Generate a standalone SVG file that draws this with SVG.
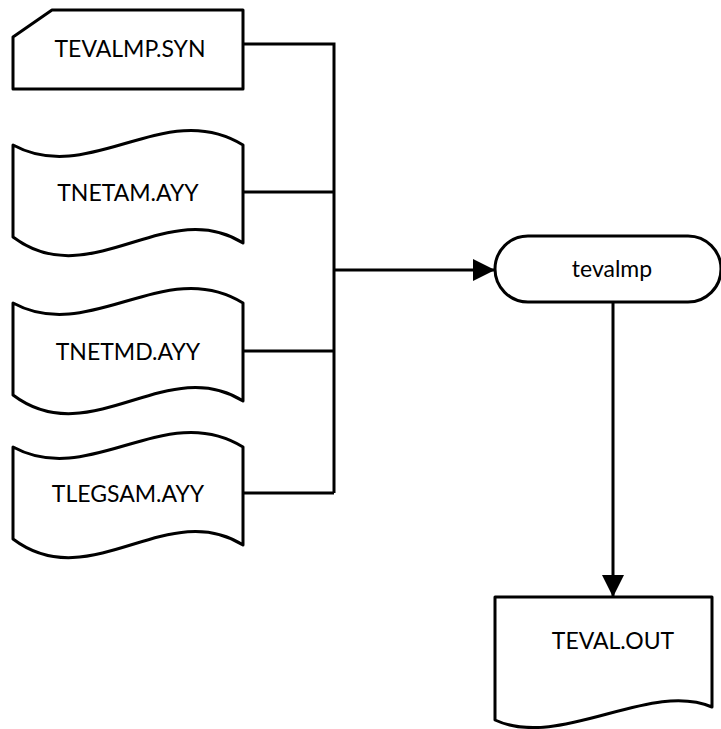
<svg xmlns="http://www.w3.org/2000/svg" width="721" height="729" viewBox="0 0 721 729">
<style>
.shape{fill:#fff;stroke:#000;stroke-width:3;stroke-linejoin:round}
.lbl{font-family:Lato,"Liberation Sans",sans-serif;font-size:23px;fill:#000;text-anchor:middle;dominant-baseline:central}
.conn{fill:none;stroke:#000;stroke-width:3}
</style>
<defs>
<marker id="arr" markerUnits="userSpaceOnUse" markerWidth="24" markerHeight="24" refX="22" refY="11" orient="auto">
<path d="M0,0 L22,11 L0,22 z" fill="#000"/>
</marker>
<path id="tape" d="M0,0 C77,42 152,-48 230,0 L230,98 C154,50 77,150 0,92 Z"/>
</defs>
<rect width="721" height="729" fill="#fff"/>
<g id="connectors">
<path class="conn" d="M243,44 H334 V493"/>
<path class="conn" d="M243,192 H334"/>
<path class="conn" d="M243,351 H334"/>
<path class="conn" d="M243,493 H334"/>
<path class="conn" d="M334,270 H495" marker-end="url(#arr)"/>
<path class="conn" d="M613,302 V597" marker-end="url(#arr)"/>
</g>
<g id="tevalmp_syn">
<path class="shape" d="M52,10 H243 V89 H13 V37 Z"/>
<text class="lbl" x="130" y="48">TEVALMP.SYN</text>
</g>
<g id="tnetam_ayy">
<use class="shape" href="#tape" transform="translate(13,145)"/>
<text class="lbl" x="128" y="192">TNETAM.AYY</text>
</g>
<g id="tnetmd_ayy">
<use class="shape" href="#tape" transform="translate(13,303)"/>
<text class="lbl" x="128" y="351">TNETMD.AYY</text>
</g>
<g id="tlegsam_ayy">
<use class="shape" href="#tape" transform="translate(13,447)"/>
<text class="lbl" x="128" y="493">TLEGSAM.AYY</text>
</g>
<g id="tevalmp">
<rect class="shape" x="495" y="236" width="226" height="66" rx="33" ry="33"/>
<text class="lbl" x="612" y="268">tevalmp</text>
</g>
<g id="teval_out">
<path class="shape" d="M495,597 H712 V707 C650,680 560,750 495,720 Z"/>
<text class="lbl" x="613" y="640">TEVAL.OUT</text>
</g>
</svg>
